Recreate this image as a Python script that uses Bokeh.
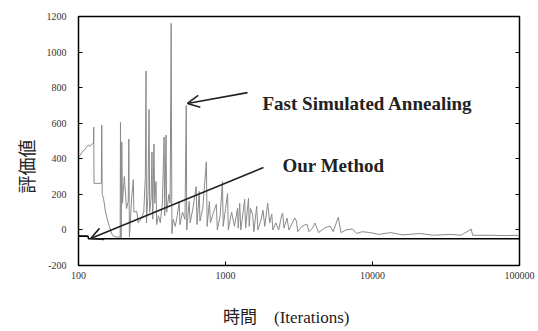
from bokeh.plotting import figure
from bokeh.models import Range1d, FixedTicker, LinearAxis, Label, Arrow, OpenHead, Title
from bokeh.embed import file_html
from bokeh.resources import INLINE

# ---- data ----
fsa_x = [100, 103, 106, 110, 113, 117, 120, 124, 126.5, 127, 127.5, 143, 144, 145, 148, 152, 157, 162,
         170, 180, 192, 193, 195, 197, 199, 205, 212, 218, 220, 222, 230, 236, 238, 249, 255, 265, 278,
         285, 288, 290, 297, 302, 305, 312, 316, 320, 326, 330, 337, 340, 350, 360, 372, 382, 386, 394,
         398, 412, 420, 427, 429, 432, 440, 455, 470, 484, 490, 510, 530, 541, 545, 566, 575, 600, 632,
         640, 663, 670, 700, 741, 750, 777, 790, 830, 866, 880, 920, 953, 965, 1000, 1033, 1045, 1100,
         1150, 1208, 1220, 1250, 1270, 1300, 1350, 1370, 1434, 1450, 1480, 1530, 1560, 1630, 1660, 1750,
         1800, 1850, 1936, 2000, 2065, 2100, 2200, 2300, 2420, 2450, 2500, 2620, 2700, 2850, 2960, 3040,
         3100, 3300, 3580, 3700, 3900, 4060, 4300, 4700, 5150, 5400, 5850, 6100, 6600, 7300, 7800, 8500,
         9700, 11000, 13300, 16000, 21000, 26000, 34000, 40000, 46900, 48000, 64000, 80000, 100000]
fsa_y = [411, 420, 440, 450, 465, 478, 470, 485, 485, 578, 262, 262, 589, 200, 178, 110, 60, 20,
         -30, -40, -40, 605, -45, 494, 150, 300, 120, 160, 511, -40, 180, 283, 100, 105, 40, 60, 100,
         300, 894, 40, 200, 678, 100, 180, 439, 60, 483, 150, 272, 30, 80, 40, 150, 522, 80, 533,
         100, 200, 150, 1161, 605, -20, 60, 20, 80, 161, 30, 100, 60, 700, 0, 161, 40, 120, 244,
         30, 217, 50, 120, 383, 20, 161, 40, 100, 144, 0, 80, 272, 20, 120, 205, 0, 100,
         20, 122, 10, 150, 0, 60, 172, 10, 178, 20, 120, 89, -10, 133, 0, 60,
         110, 20, 150, 40, 89, 0, 40, 0, 89, 94, 10, 67, 0, 40, 67, 50,
         -10, 20, 33, -10, 10, 39, -15, 10, 22, -10, 72, -15, 0, 5, -20, -10,
         -15, -25, -15, -28, -20, -30, -25, -30, 5, -30, -30, -32, -30]

our_x = [100, 116, 117, 100000]
our_y = [-35, -35, -50, -50]

x_ticks = [100, 1000, 10000, 100000]
x_tick_labels = ["100", "1000", "10000", "100000"]
y_ticks = [-200, 0, 200, 400, 600, 800, 1000, 1200]
y_tick_labels = ["-200", "0", "200", "400", "600", "800", "1000", "1200"]

p = figure(width=538, height=331, x_axis_type="log",
           x_range=Range1d(100, 100000), y_range=Range1d(-200, 1200),
           output_backend="svg", toolbar_location=None,
           min_border_left=78, min_border_right=19, min_border_top=16, min_border_bottom=66)
p.background_fill_color = "white"
p.border_fill_color = "white"
p.outline_line_color = "black"
p.outline_line_width = 1.5
p.xgrid.visible = False
p.ygrid.visible = False

tick_font = "Liberation Serif"
for ax in (p.xaxis[0], p.yaxis[0]):
    ax.axis_line_color = "black"
    ax.major_tick_in = 4
    ax.major_tick_out = 0
    ax.minor_tick_line_color = None
    ax.major_label_text_font = tick_font
    ax.major_label_text_font_size = "10px"
    ax.major_label_text_color = "#333333"

p.xaxis.ticker = FixedTicker(ticks=x_ticks)
p.xaxis.major_label_overrides = dict(zip(x_ticks, x_tick_labels))
p.xaxis.major_label_standoff = 6
p.yaxis.ticker = FixedTicker(ticks=y_ticks)
p.yaxis.major_label_overrides = dict(zip(y_ticks, y_tick_labels))
p.yaxis.major_label_standoff = 12

# x axis title (trailing spaces shift the centred text a little to the left, as in the scan)
p.xaxis.axis_label = "時間\u2003(Iterations)\u3000\u2002"
p.xaxis.axis_label_text_font = "Liberation Serif, Noto Sans CJK JP"
p.xaxis.axis_label_text_font_size = "17px"
p.xaxis.axis_label_text_font_style = "normal"
p.xaxis.axis_label_text_color = "#222222"
p.xaxis.axis_label_standoff = 26

ra = LinearAxis(ticker=FixedTicker(ticks=y_ticks),
                major_label_overrides={t: "" for t in y_ticks},
                major_tick_in=4, major_tick_out=0, minor_tick_line_color=None,
                axis_line_color="black", major_label_standoff=0)
p.add_layout(ra, "right")

p.line(fsa_x, fsa_y, line_color="#8a8a8a", line_width=1)
p.line(our_x, our_y, line_color="black", line_width=1.6)

p.add_layout(Label(x=1785, y=710, text="Fast Simulated Annealing",
                   text_font="Liberation Serif", text_font_style="bold",
                   text_font_size="19px", text_color="#222222",
                   text_baseline="alphabetic", text_align="left"))
p.add_layout(Label(x=2442, y=362, text="Our Method",
                   text_font="Liberation Serif", text_font_style="bold",
                   text_font_size="19px", text_color="#222222",
                   text_baseline="alphabetic", text_align="left"))

p.add_layout(Arrow(end=OpenHead(size=12, line_width=1.6, line_color="#222222"),
                   x_start=1412, y_start=772, x_end=551, y_end=711,
                   line_width=1.6, line_color="#222222"))
p.add_layout(Arrow(end=OpenHead(size=12, line_width=1.6, line_color="#222222"),
                   x_start=1813, y_start=351, x_end=121, y_end=-48,
                   line_width=1.6, line_color="#222222"))

# y axis title
p.add_layout(Title(text="評価値", align="left", offset=72, standoff=10,
                   text_font="Noto Sans CJK JP", text_font_size="18px",
                   text_font_style="normal", text_color="#222222"), "left")

open("out.html", "w").write(file_html(p, INLINE))
